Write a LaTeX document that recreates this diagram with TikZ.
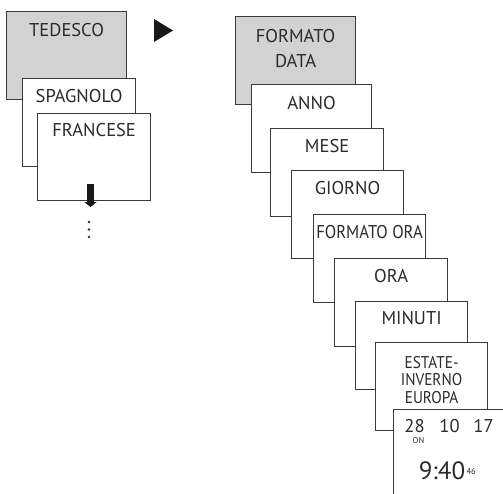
\documentclass[tikz,border=0pt]{standalone}
\usepackage{fontspec}
\setmainfont{PT Sans}
\usetikzlibrary{arrows.meta}

\definecolor{menugray}{HTML}{D2D2D2}
\definecolor{framegray}{HTML}{3A3A3A}
\definecolor{inkgray}{HTML}{2B2B2B}

\begin{document}
\begin{tikzpicture}[x=1pt, y=-1pt, line width=1.2pt,
	menubox/.style={draw=framegray, fill=white, anchor=north west, inner sep=0pt, minimum width=113pt, minimum height=88pt},
	menutext/.style={text=inkgray, anchor=base, inner sep=0pt, align=center, font=\fontsize{18.5}{25}\selectfont},
	narrowtext/.style={menutext, xscale=0.9, transform shape},
	smalltext/.style={text=inkgray, anchor=base, inner sep=0pt, font=\fontsize{8.5}{9}\selectfont}]

	\useasboundingbox (0,0) rectangle (503,493);
	\clip (0,0) rectangle (503,493);

	% language menu
	\node[menubox, fill=menugray, minimum width=120pt] (tedesco) at (6,11) {};
	\node[menutext] (tedescoT) at ([yshift=-25pt]tedesco.north) {TEDESCO};
	\node[menubox] (spagnolo) at (22,78) {};
	\node[menutext] (spagnoloT) at ([yshift=-24pt]spagnolo.north) {SPAGNOLO};
	\node[menubox, minimum height=87pt] (francese) at (37,113) {};
	\node[menutext] (franceseT) at ([yshift=-23pt]francese.north) {FRANCESE};

	\coordinate (downtop) at (90.5,184);
	\coordinate (downtip) at (90.5,207);
	\draw[line width=7pt, draw=black!90, -{Triangle[width=12pt, length=5pt]}] (downtop) -- (downtip);
	\foreach \y in {222, 229.5, 237}
		\fill[inkgray] (89,\y) circle (1.4);

	\fill[black!90] (154,19) -- (173,30.5) -- (154,42) -- cycle;

	% date and time menu (base = last line)
	\node[menubox, fill=menugray, minimum width=120pt] (formatodata) at (235,16) {};
	\node[menutext] (formatodataT) at ([yshift=-51pt]formatodata.north) {FORMATO\\DATA};
	\node[menubox, minimum width=120pt] (anno) at (251,84) {};
	\node[menutext] (annoT) at ([yshift=-25pt]anno.north) {ANNO};
	\node[menubox] (mese) at (270,128) {};
	\node[menutext] (meseT) at ([yshift=-24pt]mese.north) {MESE};
	\node[menubox, minimum width=112pt] (giorno) at (291,170) {};
	\node[menutext] (giornoT) at ([yshift=-24pt]giorno.north) {GIORNO};
	\node[menubox, minimum width=112pt] (formatoora) at (313,214) {};
	\node[narrowtext] (formatooraT) at ([yshift=-24pt]formatoora.north) {FORMATO ORA};
	\node[menubox] (ora) at (334,258) {};
	\node[menutext] (oraT) at ([yshift=-24pt]ora.north) {ORA};
	\node[menubox, minimum width=112pt] (minuti) at (355,301) {};
	\node[menutext] (minutiT) at ([yshift=-23pt]minuti.north) {MINUTI};
	\node[menubox, minimum width=112pt] (estate) at (375,342) {};
	\node[narrowtext, font=\fontsize{17}{17.5}\selectfont] (estateT) at ([yshift=-61pt]estate.north) {ESTATE-\\INVERNO\\EUROPA};

	% display
	\node[menubox, minimum height=92pt] (clock) at (393,409) {};
	\node[menutext] (dayT) at (414.5,432) {28};
	\node[menutext] (monthT) at (449.5,432) {10};
	\node[menutext] (yearT) at (483.5,432) {17};
	\node[smalltext] (onT) at (418.5,443) {ON};
	\node[menutext, font=\fontsize{25}{26}\selectfont] (timeT) at (442,479.5) {9:40};
	\node[smalltext, anchor=base west] (secT) at (466,474) {46};

\end{tikzpicture}
\end{document}
